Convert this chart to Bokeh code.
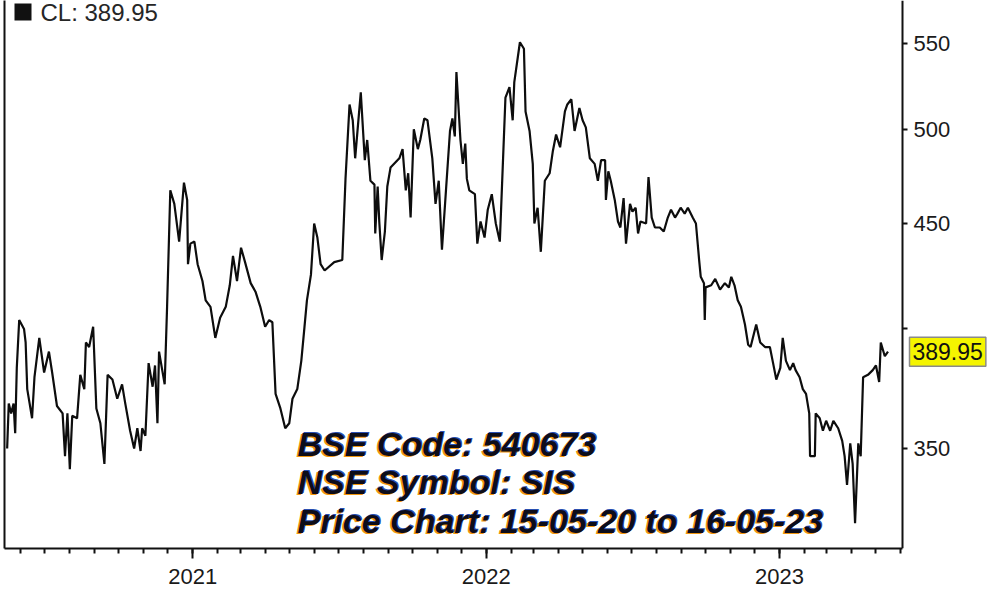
import datetime as dt
import pandas as pd
from bokeh.plotting import figure
from bokeh.models import (FixedTicker, LogAxis, DatetimeTickFormatter, Label,
                          Range1d, BoxAnnotation, NumeralTickFormatter)
from bokeh.embed import file_html
from bokeh.resources import INLINE

# ---------------- data ----------------
start_date = "2020-05-15"
days_from_start = [
    0, 2, 5, 8, 10, 12, 15, 21, 23, 25, 28, 31, 34, 40, 46, 52, 56, 62, 69, 72,
    75, 78, 81, 87, 91, 96, 98, 102, 107, 111, 116, 121, 125, 131, 137, 143, 147, 153, 158, 162,
    166, 168, 172, 176, 181, 184, 187, 189, 196, 199, 203, 208, 214, 220, 224, 225, 228, 233, 237, 243,
    247, 253, 259, 265, 272, 277, 281, 286, 291, 296, 303, 309, 315, 321, 326, 330, 334, 340, 346, 351,
    355, 361, 366, 370, 373, 378, 382, 386, 390, 395, 407, 417, 421, 426, 430, 433, 440, 445, 448, 452,
    457, 458, 461, 463, 466, 470, 473, 477, 488, 492, 496, 499, 502, 506, 511, 514, 519, 523, 529, 533,
    537, 541, 546, 551, 554, 557, 559, 564, 567, 570, 572, 575, 582, 585, 589, 594, 598, 603, 608, 613,
    620, 625, 629, 631, 638, 643, 645, 650, 654, 656, 660, 664, 669, 675, 679, 683, 688, 694, 697, 702,
    706, 712, 716, 720, 725, 731, 735, 739, 744, 745, 748, 751, 756, 760, 763, 767, 770, 775, 778, 782,
    785, 788, 795, 798, 802, 806, 812, 817, 822, 826, 831, 834, 838, 843, 847, 853, 857, 861, 863, 867,
    868, 869, 876, 881, 887, 893, 898, 901, 905, 909, 913, 918, 922, 925, 932, 937, 943, 949, 953, 957,
    962, 965, 969, 974, 978, 981, 986, 990, 994, 998, 999, 1005, 1006, 1011, 1015, 1019, 1024, 1028, 1034, 1039,
    1042, 1045, 1049, 1052, 1055, 1059, 1062, 1065, 1071, 1077, 1081, 1085, 1087, 1092, 1096,
]
close_price = [
    350, 368, 364, 368, 356, 383, 404, 400, 394, 374, 368, 362, 379, 396, 381, 390, 381, 367, 364, 347,
    364, 342, 363, 362, 380, 374, 394, 392, 401, 366, 360, 344, 380, 378, 370, 376, 368, 357, 350, 358,
    349, 358, 355, 385, 375, 384, 360, 390, 376, 410, 467, 460, 441, 471, 462, 430, 440, 441, 430, 422,
    413, 410, 396, 405, 410, 420, 434, 422, 438, 431, 421, 417, 410, 401, 404, 403, 372, 366, 358, 360,
    370, 374, 386, 401, 413, 425, 450, 443, 430, 427, 431, 432, 473, 514, 505, 484, 521, 483, 494, 472,
    470, 445, 469, 451, 432, 446, 469, 479, 484, 489, 467, 476, 453, 500, 489, 494, 506, 505, 484, 460,
    472, 437, 467, 499, 506, 496, 533, 494, 481, 492, 473, 467, 465, 440, 451, 443, 457, 465, 450, 441,
    518, 524, 505, 527, 551, 547, 510, 499, 481, 450, 458, 436, 472, 476, 488, 497, 490, 510, 514, 517,
    499, 512, 505, 501, 484, 481, 472, 483, 483, 462, 477, 472, 462, 451, 448, 463, 440, 460, 456, 458,
    445, 451, 450, 474, 453, 448, 448, 446, 453, 457, 453, 455, 458, 455, 458, 453, 450, 432, 424, 421,
    404, 419, 420, 423, 418, 421, 419, 424, 420, 413, 410, 402, 393, 392, 402, 394, 392, 392, 385, 378,
    383, 396, 386, 382, 385, 382, 379, 374, 372, 364, 347, 347, 364, 362, 357, 361, 357, 361, 358, 353,
    347, 336, 352, 344, 322, 352, 347, 379, 380, 382, 384, 377, 394, 388, 389.95,
]
legend_text = "CL: 389.95"
last_close = 389.95
last_close_text = "389.95"
year_tick_dates = ["2021-01-01", "2022-01-01", "2023-01-01"]
price_ticks = [350, 400, 450, 500, 550]
price_tick_labels = ["350", "", "450", "500", "550"]
watermark_lines = ["BSE Code:  540673", "NSE Symbol: SIS", "Price Chart: 15-05-20 to 16-05-23"]

dates = pd.Timestamp(start_date) + pd.to_timedelta(days_from_start, unit="D")

# ---------------- figure ----------------
FW, FH = 988, 548
x_start = dt.datetime(2020, 5, 11, 17)
x_axis_end = dt.datetime(2023, 6, 3, 2)      # where the price axis sits
x_end = dt.datetime(2023, 9, 23, 0)          # room for the last-price tag

p = figure(frame_width=FW, frame_height=FH,
           x_axis_type="datetime", y_axis_type="log", y_axis_location="right",
           x_range=Range1d(x_start, x_end),
           y_range=Range1d(313.0, 577.3),
           output_backend="svg", toolbar_location=None,
           min_border_left=4, min_border_top=0, min_border_bottom=44, min_border_right=0,
           background_fill_color="white", border_fill_color="white")
p.outline_line_color = None
p.grid.visible = False

p.line(dates, close_price, line_color="#0d0d0d", line_width=2.2)


def ms(d):
    return pd.Timestamp(d).timestamp() * 1000.0


# x axis
month_ticks = [ms(d) for d in pd.date_range("2020-06-01", "2023-06-01", freq="MS")]
xa = p.xaxis[0]
xa.ticker = FixedTicker(ticks=[ms(d) for d in year_tick_dates], minor_ticks=month_ticks)
xa.formatter = DatetimeTickFormatter(years="%Y", months="%Y", days="%Y", hours="%Y",
                                     hourmin="%Y", minutes="%Y", minsec="%Y", seconds="%Y")
xa.bounds = (ms(x_start), ms(x_axis_end))
xa.axis_line_width = 2
xa.axis_line_color = "#111111"
xa.major_tick_out = 10
xa.major_tick_in = 0
xa.minor_tick_out = 5
xa.minor_tick_in = 0
xa.major_tick_line_width = 2
xa.minor_tick_line_width = 2
xa.major_tick_line_color = "#111111"
xa.minor_tick_line_color = "#111111"
xa.major_label_text_font = "Liberation Sans"
xa.major_label_text_font_size = "22px"
xa.major_label_text_color = "#1a1a1a"
xa.major_label_standoff = 10

# price axis, drawn at the fixed date inside the frame
ya = p.yaxis[0]
ya.fixed_location = ms(x_axis_end)
ya.ticker = FixedTicker(ticks=price_ticks, minor_ticks=[])
ya.formatter = NumeralTickFormatter(format="0")
ya.major_label_overrides = {t: lab for t, lab in zip(price_ticks, price_tick_labels)}
ya.axis_line_width = 2
ya.axis_line_color = "#111111"
ya.major_tick_out = 5
ya.major_tick_in = 0
ya.major_tick_line_width = 2
ya.major_tick_line_color = "#111111"
ya.minor_tick_line_color = None
ya.major_label_text_font = "Liberation Sans"
ya.major_label_text_font_size = "22px"
ya.major_label_text_color = "#1a1a1a"
ya.major_label_standoff = 6

# left border line
left_axis = LogAxis(ticker=FixedTicker(ticks=[]), axis_line_width=2, axis_line_color="#111111",
                    major_tick_line_color=None, minor_tick_line_color=None,
                    major_label_standoff=0, major_label_text_font_size="0px")
p.add_layout(left_axis, "left")

# last price tag
p.add_layout(Label(x=905, x_units="screen", y=last_close, y_units="data",
                   text=last_close_text, text_align="left", text_baseline="middle",
                   text_font="Liberation Sans", text_font_size="23px", text_color="#111111",
                   background_fill_color="#f5f500", border_line_color="#8a8a8a",
                   border_line_width=1.5, padding=(3, 6)))

# legend
p.add_layout(BoxAnnotation(left=10, right=27, left_units="screen", right_units="screen",
                           bottom=FH - 20, top=FH - 3, bottom_units="screen", top_units="screen",
                           fill_color="#111111", fill_alpha=1, line_color=None))
p.add_layout(Label(x=36, x_units="screen", y=FH + 2, y_units="screen", text=legend_text,
                   text_align="left", text_baseline="top", text_font="Liberation Sans",
                   text_font_size="24px", text_color="#262626"))

# watermark text (orange / blue fringe, dark face)
base_y = [105, 67, 28]
for line, yy in zip(watermark_lines, base_y):
    for dx, dy, col in [(-1.5, -1.0, "#f0960f"), (1.0, 0.5, "#2a4fb0"), (0.0, 0.0, "#0d0d1a")]:
        p.add_layout(Label(x=293 + dx, x_units="screen", y=yy + dy, y_units="screen", text=line,
                           text_align="left", text_baseline="alphabetic",
                           text_font="Liberation Sans", text_font_size="34px",
                           text_font_style="bold italic", text_color=col))

open("out.html", "w").write(file_html(p, INLINE))
